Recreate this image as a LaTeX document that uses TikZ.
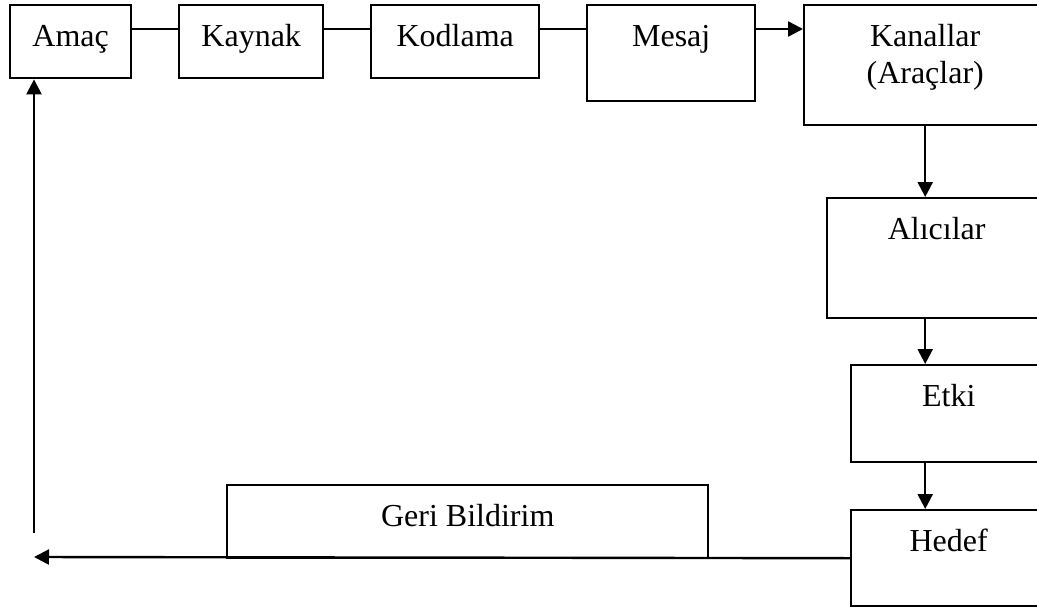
\documentclass[tikz,border=0pt]{standalone}
\usepackage{fontspec}
\setmainfont{Liberation Serif}
\usetikzlibrary{positioning,calc,arrows.meta}

\tikzset{
  kutu/.style={draw, line width=1.2pt, anchor=north west, inner sep=0pt, align=center,
    text height=20.5pt, font=\fontsize{16}{18.5}\selectfont},
  ok/.style={line width=1.2pt, -{Triangle[length=7.5pt,width=7.5pt]}},
  cizgi/.style={line width=1.2pt}
}

\begin{document}
\begin{tikzpicture}[x=0.5pt,y=-0.5pt]
\useasboundingbox (0,0) rectangle (1037,610);
\clip (0,0) rectangle (1037,610);
% ust sira
\node[kutu, minimum width=60.5pt, minimum height=36.5pt, text depth=16pt] (amac) at (9,4) {Amaç};
\node[kutu, minimum width=72pt, minimum height=36.5pt, text depth=16pt] (kaynak) at (178,4) {Kaynak};
\node[kutu, minimum width=84pt, minimum height=36.5pt, text depth=16pt] (kodlama) at (370,4) {Kodlama};
\node[kutu, minimum width=84pt, minimum height=48pt, text depth=27.5pt] (mesaj) at (586,4) {Mesaj};
\node[kutu, minimum width=121pt, minimum height=60pt, text height=39pt, text depth=21pt] (kanal) at (803,4) {Kanallar\\(Araçlar)};
% sag sutun
\node[kutu, minimum width=109.5pt, minimum height=60pt, text depth=39.5pt] (alici) at (826,197) {Alıcılar};
\node[kutu, minimum width=97.5pt, minimum height=48.5pt, text depth=28pt] (etki) at (850,364) {Etki};
\node[kutu, minimum width=97.5pt, minimum height=48pt, text depth=27.5pt] (hedef) at (850,509) {Hedef};
% geri bildirim
\node[kutu, minimum width=240.5pt, minimum height=36.5pt, text depth=16pt] (geri) at (226,484) {Geri Bildirim};
\coordinate (don) at (34,557);
\coordinate (yukari) at (34,533);

\draw[cizgi] ([yshift=-12.5pt]amac.north east) -- ([yshift=-12.5pt]kaynak.north west);
\draw[cizgi] ([yshift=-12.5pt]kaynak.north east) -- ([yshift=-12.5pt]kodlama.north west);
\draw[cizgi] ([yshift=-12.5pt]kodlama.north east) -- ([yshift=-12.5pt]mesaj.north west);
\draw[ok] ([yshift=-12.5pt]mesaj.north east) -- ([yshift=-12.5pt]kanal.north west);
\draw[ok] (kanal.south) -- (kanal.south |- alici.north);
\draw[ok] (kanal.south |- alici.south) -- (kanal.south |- etki.north);
\draw[ok] (kanal.south |- etki.south) -- (kanal.south |- hedef.north);
\draw[ok] (hedef.west) -- (don);
\draw[ok] (yukari) -- (yukari |- amac.south);
\end{tikzpicture}
\end{document}
